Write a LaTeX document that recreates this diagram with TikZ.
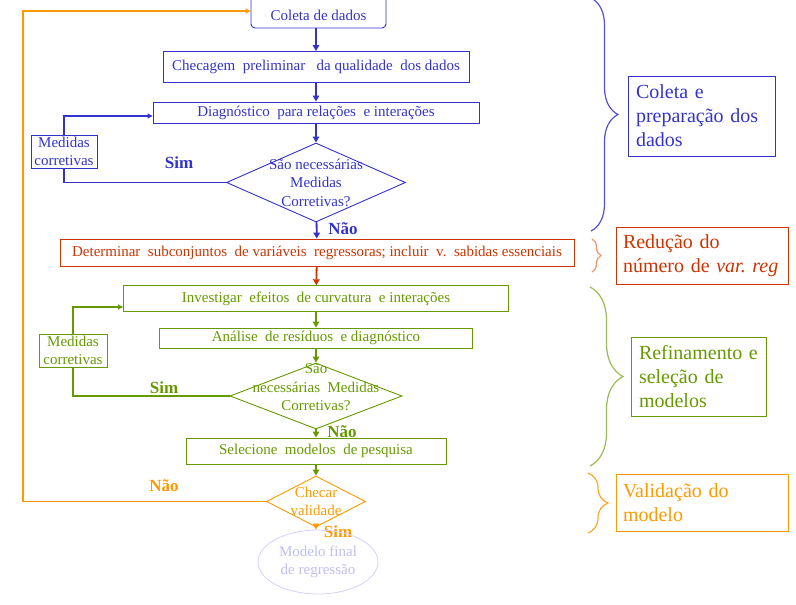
\documentclass[tikz,border=0pt]{standalone}
\usepackage{fontspec}
\setmainfont{Liberation Serif}
\usepackage{xcolor}
\usetikzlibrary{
    arrows.meta,
    shapes.geometric,
    decorations.pathreplacing,
    calc
}
\definecolor{cblue}{RGB}{51,51,204}
\definecolor{cred}{RGB}{204,51,0}
\definecolor{cgreen}{RGB}{102,153,0}
\definecolor{corange}{RGB}{255,153,0}
\definecolor{cbluebr}{RGB}{80,80,220}
\definecolor{credbr}{RGB}{232,150,110}
\definecolor{cgreenbr}{RGB}{155,187,89}
\definecolor{corangebr}{RGB}{255,165,40}
\definecolor{clavline}{RGB}{210,210,250}
\definecolor{clavtext}{RGB}{190,190,245}

\begin{document}
\begin{tikzpicture}[x=1pt, y=-1pt,
    >={Triangle[length=5pt, width=5pt]},
    txt/.style={font=\fontsize{15}{18.5}\selectfont, align=center, inner sep=0pt},
    box/.style={txt, draw, line width=0.9pt},
    ask/.style={draw, diamond, inner sep=0pt, line width=0.9pt},
    flow/.style={line width=1.8pt, -{Triangle[length=6pt, width=6.5pt]}},
    fbk/.style={line width=1.1pt},
    yesno/.style={font=\fontsize{17}{20}\selectfont\bfseries},
    side/.style={draw, line width=1pt, align=left, inner xsep=8pt, inner ysep=0pt, font=\fontsize{20}{24}\selectfont},
    grp/.style={decorate, line width=1.2pt, decoration={brace, amplitude=#1}}
]
    \useasboundingbox (0, 0) rectangle (796, 605);

    \node (coleta) [box, cblue, rounded corners=4pt, minimum width=135pt, text height=26pt, text depth=8pt, anchor=base] at (318.5, 20) {Coleta de dados};
    \node (check) [box, cblue, minimum width=306pt, minimum height=31pt] at (316, 67) {Checagem\ \ preliminar\ \ \ da qualidade\ \ dos dados};
    \node (diag) [box, cblue, minimum width=326pt, minimum height=21pt] at (316, 112.5) {Diagnóstico\ \ para relações\ \ e interações};
    \node (q1) [ask, cblue, minimum width=179pt, minimum height=79pt] at (316, 182.5) {};
    \node (q1txt) [txt, cblue] at (316, 182.5) {São necessárias\\Medidas\\Corretivas?};
    \node (med1) [box, cblue, minimum width=66pt, minimum height=33pt] at (64, 151.5) {Medidas\\corretivas};
    \node (sim1) [yesno, cblue] at (179, 163) {Sim};
    \node (nao1) [yesno, cblue] at (343, 229) {Não};

    \node (det) [box, cred, minimum width=514pt, minimum height=27pt] at (317, 252.5) {Determinar\ \ subconjuntos\ \ de variáveis\ \ regressoras; incluir\ \ v.\ \ sabidas essenciais};

    \node (invest) [box, cgreen, minimum width=385pt, minimum height=25.5pt] at (316, 298.5) {Investigar\ \ efeitos\ \ de curvatura\ \ e interações};
    \node (anal) [box, cgreen, minimum width=313pt, minimum height=20pt] at (316, 338) {Análise\ \ de resíduos\ \ e diagnóstico};
    \node (q2) [ask, cgreen, minimum width=172pt, minimum height=66pt] at (316, 396) {};
    \node (q2txt) [txt, cgreen] at (316, 387.5) {São\\necessárias\ \ Medidas\\Corretivas?};
    \node (med2) [box, cgreen, minimum width=68pt, minimum height=33pt] at (73, 350.5) {Medidas\\corretivas};
    \node (sim2) [yesno, cgreen] at (164, 388) {Sim};
    \node (nao2) [yesno, cgreen] at (342, 432) {Não};
    \node (selec) [box, cgreen, minimum width=260pt, minimum height=26pt] at (316, 451) {Selecione\ \ modelos\ \ de pesquisa};

    \node (q3) [ask, corange, minimum width=99pt, minimum height=51pt] at (316, 501.5) {};
    \node (q3txt) [txt, corange] at (316, 501.5) {Checar\\validade};
    \node (nao3) [yesno, corange] at (164, 486) {Não};
    \node (sim3) [yesno, corange] at (338, 532) {Sim};
    \node (final) [txt, ellipse, draw=clavline, text=clavtext, line width=0.8pt, minimum width=120pt, minimum height=64pt] at (318, 562) {Modelo final\\de regressão};
    \coordinate (back) at (23, 300);

    \node (lbl1) [side, cblue, text width=131pt, minimum height=80pt] at (701.5, 116) {Coleta e\\preparação dos\\dados};
    \node (lbl2) [side, cred, text width=158pt, inner xsep=7pt, minimum height=57pt] at (702, 255.5) {Redução do\\número de \textit{var.\ reg}};
    \node (lbl3) [side, cgreen, text width=119pt, minimum height=79pt] at (698.5, 376.5) {Refinamento e\\seleção de\\modelos};
    \node (lbl4) [side, corange, text width=158pt, inner xsep=7pt, minimum height=57pt] at (702, 502.5) {Validação do\\modelo};

    \draw[grp=27pt, cbluebr] (591, -2) -- (591, 231);
    \draw[grp=9pt, credbr] (592, 239) -- (592, 272);
    \draw[grp=33pt, cgreenbr] (590, 287) -- (590, 466);
    \draw[grp=20pt, corangebr] (588, 473) -- (588, 533);

    \draw[cblue]
    (coleta.south -| check.north) edge[flow] (check.north)
    (check) edge[flow] (diag)
    (diag) edge[flow] (q1)
    (q1) edge[flow] (det);
    \draw[fbk, cblue] (q1.west) -| (med1.south);
    \draw[fbk, cblue, ->] (med1.north) |- ([yshift=-3.5pt]diag.west);
    \draw[cred] (det) edge[flow] (invest);
    \draw[cgreen]
    (invest) edge[flow] (anal)
    (anal) edge[flow] (q2)
    (q2) edge[flow] (selec)
    (selec) edge[flow] (q3);
    \draw[fbk, cgreen] (q2.west) -| (med2.south);
    \draw[fbk, cgreen, ->] (med2.north) |- ([yshift=-8.5pt]invest.west);
    \draw[corange] (q3) edge[flow] (q3 |- final.north);
    \draw[fbk, corange, ->] (q3.west) -| (back) |- (coleta.west);
\end{tikzpicture}
\end{document}
